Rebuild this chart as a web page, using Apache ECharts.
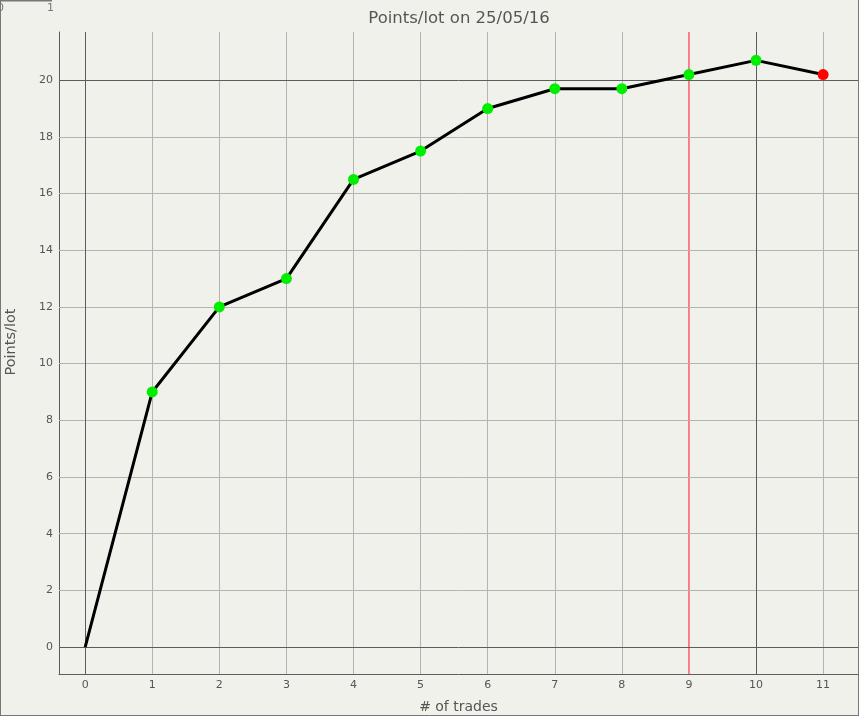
<!DOCTYPE html>
<html><head><meta charset="utf-8">
<script src="https://cdn.jsdelivr.net/npm/echarts@6/dist/echarts.min.js"></script>
<style>html,body{margin:0;padding:0;background:#f1f1ec;}#c{width:859px;height:716px;}</style>
</head><body><div id="c"></div>
<script>
const trades = [0,1,2,3,4,5,6,7,8,9,10,11];
const pointsPerLot = [0,9,12,13,16.5,17.5,19,19.7,19.7,20.2,20.7,20.2];
const xTicks = [0,1,2,3,4,5,6,7,8,9,10,11];
const yTicks = [0,2,4,6,8,10,12,14,16,18,20];
const darkX = [0,10];
const darkY = [0,20];
const markerX = 9;
const xRange = [-0.39, 11.52];
const yRange = [-0.95, 21.7];

const FONT = 'DejaVu Sans';
const chart = echarts.init(document.getElementById('c'));

const lightLines = [], darkLines = [];
xTicks.forEach(v => {
  if (v === markerX) return;
  if (darkX.includes(v)) darkLines.push({xAxis: v});
  else lightLines.push({xAxis: v});
});
yTicks.forEach(v => {
  if (darkY.includes(v)) darkLines.push({yAxis: v});
  else lightLines.push({yAxis: v});
});

function lineSeries(lines, color, z) {
  return {
    type: 'line', data: [], z: z, silent: true,
    markLine: {silent: true, symbol: 'none', label: {show: false}, animation: false,
      lineStyle: {color: color, width: 1, type: 'solid'}, emphasis: {disabled: true}, data: lines}
  };
}

const data = trades.map((t, i) => {
  const item = {value: [t, pointsPerLot[i]]};
  if (i === 0) item.symbol = 'none';
  else if (i === trades.length - 1) item.itemStyle = {color: '#ff0000'};
  return item;
});

chart.setOption({
  backgroundColor: '#f1f1ec',
  animation: false,
  title: {
    text: 'Points/lot on 25/05/16', left: 454, top: 5, textAlign: 'center',
    textStyle: {fontFamily: FONT, fontSize: 16.5, fontWeight: 'normal', color: '#555'}
  },
  grid: {left: 59, right: 1, top: 32, bottom: 42, containLabel: false, outerBoundsMode: 'none'},
  xAxis: {
    type: 'value', min: xRange[0], max: xRange[1],
    name: '# of trades', nameLocation: 'middle', nameGap: 26,
    nameTextStyle: {fontFamily: FONT, fontSize: 14, color: '#555'},
    axisLine: {show: true, onZero: false, lineStyle: {color: '#5c5c5c', width: 1}},
    axisTick: {show: false},
    splitLine: {show: false},
    axisLabel: {customValues: xTicks, fontFamily: FONT, fontSize: 11, color: '#555', margin: 6}
  },
  yAxis: {
    type: 'value', min: yRange[0], max: yRange[1],
    name: 'Points/lot', nameLocation: 'middle', nameGap: 40,
    nameTextStyle: {fontFamily: FONT, fontSize: 14.5, color: '#555', padding: [0, 0, 0, 22]},
    axisLine: {show: true, onZero: false, lineStyle: {color: '#5c5c5c', width: 1}},
    axisTick: {show: false},
    splitLine: {show: false},
    axisLabel: {customValues: yTicks, fontFamily: FONT, fontSize: 11, color: '#555', margin: 6}
  },
  series: [
    lineSeries(lightLines, '#b4b4b4', 1),
    lineSeries(darkLines, '#5c5c5c', 2),
    {
      type: 'line', z: 3, silent: true, symbol: 'none',
      data: [[markerX, yRange[0]], [markerX, yRange[1]]],
      lineStyle: {color: '#ff5a6e', width: 1.5}
    },
    {
      type: 'line', data: data, z: 5,
      lineStyle: {color: '#000', width: 3},
      symbol: 'circle', symbolSize: 11,
      itemStyle: {color: '#00ee00', borderWidth: 0}
    }
  ],
  graphic: [
    {type: 'line', shape: {x1: 0.5, y1: 0, x2: 0.5, y2: 716}, style: {stroke: '#777', lineWidth: 1}},
    {type: 'line', shape: {x1: 0, y1: 715.5, x2: 859, y2: 715.5}, style: {stroke: '#777', lineWidth: 1}},
    {type: 'line', shape: {x1: 858.5, y1: 0, x2: 858.5, y2: 716}, style: {stroke: '#777', lineWidth: 1}},
    {type: 'line', shape: {x1: 0, y1: 0.5, x2: 52, y2: 0.5}, style: {stroke: '#777', lineWidth: 2}},
    {type: 'text', left: -3, top: 3, style: {text: '0', fontFamily: FONT, fontSize: 11, fill: '#777'}},
    {type: 'text', left: 47, top: 3, style: {text: '1', fontFamily: FONT, fontSize: 11, fill: '#777'}}
  ]
});
</script></body></html>
